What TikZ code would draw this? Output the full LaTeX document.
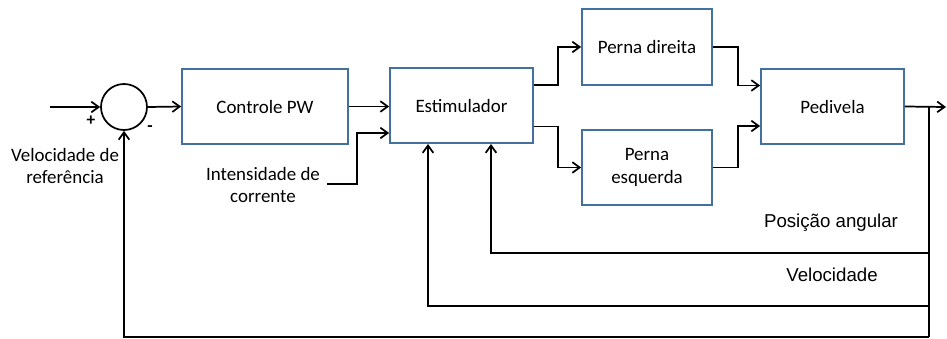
\documentclass[tikz,border=0pt]{standalone}
\usepackage{fontspec}
\setmainfont{Carlito}
\newfontfamily\arialfont{Liberation Sans}
\usepackage{tikz}
\usepackage{xcolor}
\usetikzlibrary{
    arrows.meta,
    calc,
    positioning
}
\definecolor{caixa}{RGB}{65,113,156}
\tikzset{
    bloco/.style={draw=caixa, fill=white, inner sep=0pt, align=center,
        minimum height=56.5pt, font=\fontsize{14.2}{17}\selectfont},
    rotulo/.style={align=center, inner sep=0pt, font=\fontsize{14.2}{17}\selectfont},
    sinal/.style={inner sep=0pt, font=\bfseries\fontsize{13}{13}\selectfont}
}

\begin{document}
\begin{tikzpicture}[x=0.75pt, y=-0.75pt, >={Straight Barb[length=5.5pt,width=8pt]}, line width=1.3pt]
                        \useasboundingbox (0,0) rectangle (947,339);

                        \node[circle, draw, minimum size=34.5pt, inner sep=0pt] (soma) at (124,107) {};
                        \node[bloco, minimum width=124.5pt] (pw) at (265,106.5) {Controle PW};
                        \node[bloco, minimum width=107.25pt] (estim) at (461.5,105.5) {Estimulador};
                        \node[bloco, minimum width=97.5pt] (pdir) at (647,47) {Perna direita};
                        \node[bloco, minimum width=97.5pt] (pesq) at (647,167.5) {Perna\\esquerda};
                        \node[bloco, minimum width=107.25pt] (pediv) at (832.5,106.5) {Pedivela};

                        \node[sinal] (mais) at (91,121) {+};
                        \node[sinal] (menos) at (150,129) {-};
                        \node[rotulo] (vref) at (65,166) {Velocidade de\\referência};
                        \node[rotulo] (icorr) at (263,185) {Intensidade de\\corrente};
                        \node[rotulo, font=\arialfont\fontsize{14}{17}\selectfont] (pang) at (831,223) {Posição angular};
                        \node[rotulo, font=\arialfont\fontsize{14}{17}\selectfont] (vel) at (832,275) {Velocidade};

                        \coordinate (ent) at (50,107);
                        \coordinate (ic) at (327,184);
                        \coordinate (sai) at (946,107);
                        \coordinate (ram) at (929,107);
                        \coordinate (t1) at (929,253);
                        \coordinate (t2) at (929,306);
                        \coordinate (t3) at (929,337);

                        \draw
                        (ent) edge[->] (soma.west)
                        (soma.east) edge[->] (pw.west)
                        (pw.east) edge[->] (pw.east -| estim.west)
                        (pediv.east) edge[->] (sai)
                        (ram) -- (t3);
                        \draw[->] (ic) -- ++(30,0) |- ($(estim.west)+(0,27.5)$);
                        \draw[->] ($(estim.east)+(0,-20.5)$) -- ++(24,0) |- (pdir.west);
                        \draw[->] ($(estim.east)+(0,21)$) -- ++(24,0) |- (pesq.west);
                        \draw[->] (pdir.east) -- ++(25,0) |- ($(pediv.west)+(0,-21)$);
                        \draw[->] (pesq.east) -- ++(25,0) |- ($(pediv.west)+(0,19.5)$);
                        \draw[->] (t1) -| ($(estim.south)+(29.5,0)$);
                        \draw[->] (t2) -| ($(estim.south)+(-33.5,0)$);
                        \draw[->] (t3) -| (soma.south);
                    \end{tikzpicture}
\end{document}
